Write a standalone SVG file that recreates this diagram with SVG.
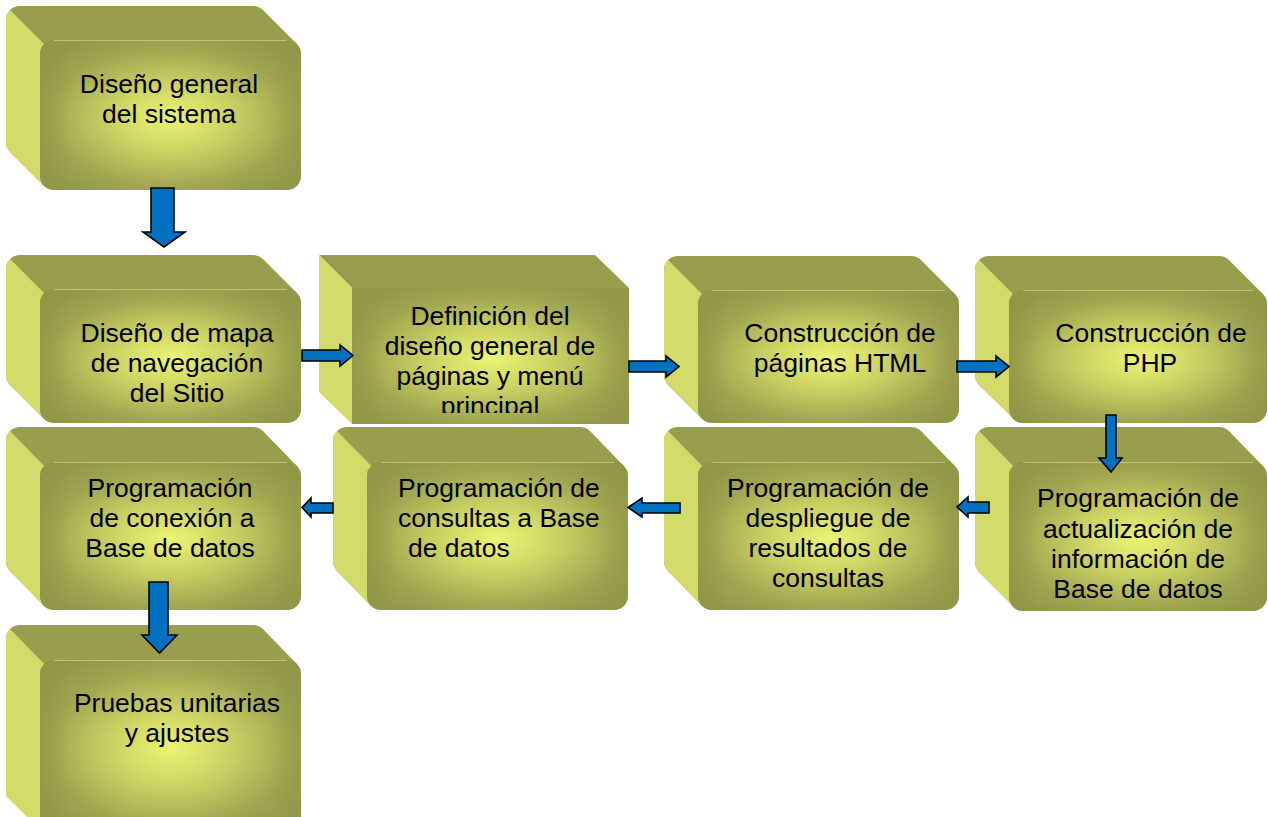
<svg xmlns="http://www.w3.org/2000/svg" width="1268" height="817" viewBox="0 0 1268 817">
<defs>
<radialGradient id="gFront" cx="50%" cy="52%" r="62%">
<stop offset="0" stop-color="#EBF473"/>
<stop offset="0.35" stop-color="#CDD464"/>
<stop offset="0.75" stop-color="#A0A550"/>
<stop offset="1" stop-color="#939849"/>
</radialGradient>
<linearGradient id="gLeftShade" x1="0" y1="0" x2="1" y2="0">
<stop offset="0" stop-color="#8F9446" stop-opacity="0.55"/>
<stop offset="0.12" stop-color="#8F9446" stop-opacity="0"/>
<stop offset="0.88" stop-color="#8F9446" stop-opacity="0"/>
<stop offset="1" stop-color="#8F9446" stop-opacity="0.4"/>
</linearGradient>
<clipPath id="clipDef"><rect x="352" y="288" width="277" height="125"/></clipPath>
<clipPath id="clipMapa"><rect x="40" y="289" width="261" height="114"/></clipPath>
</defs>
<style>
.top{fill:#999E4E}
.side{fill:#D2DA6A}
.front{fill:url(#gFront)}
.shade{fill:url(#gLeftShade)}
.edge{stroke:#C9CF7E;stroke-width:1;opacity:0.8}
.t{font-family:"Liberation Sans",Arial,Helvetica,sans-serif;font-size:26.5px;fill:#000;text-anchor:middle}
.ts{font-family:"Liberation Sans",Arial,Helvetica,sans-serif;font-size:26.5px;fill:#000;text-anchor:start}
.arr{fill:#0070C0;stroke:#000;stroke-width:1.6;stroke-linejoin:miter}
</style>
<rect width="1268" height="817" fill="#FFFFFF"/>

<!-- Box 1 -->
<g id="n1">
<rect class="top" x="6" y="6" width="261" height="150" rx="14"/>
<polygon class="top" points="262.9,10.1 296.9,44.1 44.1,185.9 10.1,151.9"/>
<path class="side" d="M10.1,10.1 L54,54 L54,176 L44.1,185.9 L10.1,151.9 A14,14 0 0 1 6,142 L6,20 A14,14 0 0 1 10.1,10.1 Z"/>
<rect class="front" x="40" y="40" width="261" height="150" rx="14"/>
<rect class="shade" x="40" y="40" width="261" height="150" rx="14"/>
<line class="edge" x1="54" y1="40.5" x2="287" y2="40.5"/>
<text class="t" x="169" y="93">Diseño general</text>
<text class="t" x="169" y="123">del sistema</text>
</g>

<!-- Box 2 -->
<g id="n2">
<rect class="top" x="6" y="255" width="261" height="134" rx="14"/>
<polygon class="top" points="262.9,259.1 296.9,293.1 44.1,418.9 10.1,384.9"/>
<path class="side" d="M10.1,259.1 L54,303 L54,409 L44.1,418.9 L10.1,384.9 A14,14 0 0 1 6,375 L6,269 A14,14 0 0 1 10.1,259.1 Z"/>
<rect class="front" x="40" y="289" width="261" height="134" rx="14"/>
<rect class="shade" x="40" y="289" width="261" height="134" rx="14"/>
<line class="edge" x1="54" y1="289.5" x2="287" y2="289.5"/>
<g clip-path="url(#clipMapa)">
<text class="t" x="177" y="342">Diseño de mapa</text>
<text class="t" x="177" y="372">de navegación</text>
<text class="t" x="177" y="402">del Sitio</text>
</g>
</g>

<!-- Box 3 -->
<g id="n3">
<polygon class="top" points="319,255 595,255 629,288 352,288"/>
<polygon class="side" points="319,255 352,288 352,424 319,392"/>
<rect class="front" x="352" y="288" width="277" height="136"/>
<rect class="shade" x="352" y="288" width="277" height="136"/>
<g clip-path="url(#clipDef)">
<text class="t" x="490" y="325">Definición del</text>
<text class="t" x="490" y="355">diseño general de</text>
<text class="t" x="490" y="385">páginas y menú</text>
<text class="t" x="490" y="415">principal</text>
</g>
</g>

<!-- Box 4 -->
<g id="n4">
<rect class="top" x="664" y="256" width="261" height="133" rx="14"/>
<polygon class="top" points="920.9,260.1 954.9,294.1 702.1,418.9 668.1,384.9"/>
<path class="side" d="M668.1,260.1 L712,304 L712,409 L702.1,418.9 L668.1,384.9 A14,14 0 0 1 664,375 L664,270 A14,14 0 0 1 668.1,260.1 Z"/>
<rect class="front" x="698" y="290" width="261" height="133" rx="14"/>
<rect class="shade" x="698" y="290" width="261" height="133" rx="14"/>
<line class="edge" x1="712" y1="290.5" x2="945" y2="290.5"/>
<text class="t" x="840" y="342">Construcción de</text>
<text class="t" x="840" y="372">páginas HTML</text>
</g>

<!-- Box 5 -->
<g id="n5">
<rect class="top" x="975" y="256" width="258" height="133" rx="14"/>
<polygon class="top" points="1228.9,260.1 1262.9,294.1 1014.1,418.9 979.1,384.9"/>
<path class="side" d="M979.1,260.1 L1023,304 L1023,409 L1014.1,418.9 L979.1,384.9 A14,14 0 0 1 975,375 L975,270 A14,14 0 0 1 979.1,260.1 Z"/>
<rect class="front" x="1009" y="290" width="258" height="133" rx="14"/>
<rect class="shade" x="1009" y="290" width="258" height="133" rx="14"/>
<line class="edge" x1="1023" y1="290.5" x2="1253" y2="290.5"/>
<text class="t" x="1151" y="342">Construcción de</text>
<text class="t" x="1150" y="372">PHP</text>
</g>

<!-- Box 6 -->
<g id="n6">
<rect class="top" x="6" y="427" width="261" height="148" rx="14"/>
<polygon class="top" points="262.9,431.1 296.9,466.1 44.1,605.9 10.1,570.9"/>
<path class="side" d="M10.1,431.1 L54,476 L54,596 L44.1,605.9 L10.1,570.9 A14,14 0 0 1 6,561 L6,441 A14,14 0 0 1 10.1,431.1 Z"/>
<rect class="front" x="40" y="462" width="261" height="148" rx="14"/>
<rect class="shade" x="40" y="462" width="261" height="148" rx="14"/>
<line class="edge" x1="54" y1="462.5" x2="287" y2="462.5"/>
<text class="t" x="170" y="497">Programación</text>
<text class="t" x="172" y="527">de conexión a</text>
<text class="t" x="170" y="557">Base de datos</text>
</g>

<!-- Box 7 -->
<g id="n7">
<rect class="top" x="333" y="427" width="261" height="148" rx="14"/>
<polygon class="top" points="589.9,431.1 623.9,466.1 371.1,605.9 337.1,570.9"/>
<path class="side" d="M337.1,431.1 L381,476 L381,596 L371.1,605.9 L337.1,570.9 A14,14 0 0 1 333,561 L333,441 A14,14 0 0 1 337.1,431.1 Z"/>
<rect class="front" x="367" y="462" width="261" height="148" rx="14"/>
<rect class="shade" x="367" y="462" width="261" height="148" rx="14"/>
<line class="edge" x1="381" y1="462.5" x2="614" y2="462.5"/>
<text class="ts" x="398" y="497">Programación de</text>
<text class="ts" x="398" y="527">consultas a Base</text>
<text class="ts" x="408" y="557">de datos</text>
</g>

<!-- Box 8 -->
<g id="n8">
<rect class="top" x="664" y="427" width="261" height="148" rx="14"/>
<polygon class="top" points="920.9,431.1 954.9,466.1 702.1,605.9 668.1,570.9"/>
<path class="side" d="M668.1,431.1 L712,476 L712,596 L702.1,605.9 L668.1,570.9 A14,14 0 0 1 664,561 L664,441 A14,14 0 0 1 668.1,431.1 Z"/>
<rect class="front" x="698" y="462" width="261" height="148" rx="14"/>
<rect class="shade" x="698" y="462" width="261" height="148" rx="14"/>
<line class="edge" x1="712" y1="462.5" x2="945" y2="462.5"/>
<text class="t" x="828" y="497">Programación de</text>
<text class="t" x="828" y="527">despliegue de</text>
<text class="t" x="828" y="557">resultados de</text>
<text class="t" x="828" y="587">consultas</text>
</g>

<!-- Box 9 -->
<g id="n9">
<rect class="top" x="975" y="427" width="258" height="149" rx="14"/>
<polygon class="top" points="1228.9,431.1 1262.9,466.1 1014.1,606.9 979.1,571.9"/>
<path class="side" d="M979.1,431.1 L1023,476 L1023,597 L1014.1,606.9 L979.1,571.9 A14,14 0 0 1 975,562 L975,441 A14,14 0 0 1 979.1,431.1 Z"/>
<rect class="front" x="1009" y="462" width="258" height="149" rx="14"/>
<rect class="shade" x="1009" y="462" width="258" height="149" rx="14"/>
<line class="edge" x1="1023" y1="462.5" x2="1253" y2="462.5"/>
<text class="t" x="1138" y="507">Programación de</text>
<text class="t" x="1138" y="538">actualización de</text>
<text class="t" x="1138" y="568">información de</text>
<text class="t" x="1138" y="598">Base de datos</text>
</g>

<!-- Box 10 -->
<g id="n10">
<rect class="top" x="6" y="625" width="261" height="170" rx="14"/>
<polygon class="top" points="262.9,629.1 296.9,664.1 44.1,825.9 10.1,790.9"/>
<path class="side" d="M10.1,629.1 L54,674 L54,830 L40,830 L6,796 L6,639 A14,14 0 0 1 10.1,629.1 Z"/>
<rect class="front" x="40" y="660" width="261" height="170" rx="14"/>
<rect class="shade" x="40" y="660" width="261" height="170" rx="14"/>
<line class="edge" x1="54" y1="660.5" x2="287" y2="660.5"/>
<text class="t" x="177" y="712">Pruebas unitarias</text>
<text class="t" x="177" y="742">y ajustes</text>
</g>

<!-- Connectors -->
<g id="connectors">
<polygon class="arr" points="151,188 174,188 174,232 185,232 164,247 143,232 151,232"/>
<polygon class="arr" points="302,350 340,350 340,345 353,355.5 340,366 340,361 302,361"/>
<polygon class="arr" points="629,361 666,361 666,356 679,366.5 666,377 666,372 629,372"/>
<polygon class="arr" points="957,361 996,361 996,356 1009,366.5 996,377 996,372 957,372"/>
<polygon class="arr" points="1106,415 1116,415 1116,458 1122,458 1111,472 1099,458 1106,458"/>
<polygon class="arr" points="989,502 968,502 968,497 957,507 968,517 968,513 989,513"/>
<polygon class="arr" points="680,503 642,503 642,498 628,507.5 642,517 642,513 680,513"/>
<polygon class="arr" points="333,503 311,503 311,498 302,507.5 311,517 311,513 333,513"/>
<polygon class="arr" points="149,582 168,582 168,635 177,635 159.5,653 142,635 149,635"/>
</g>
</svg>
